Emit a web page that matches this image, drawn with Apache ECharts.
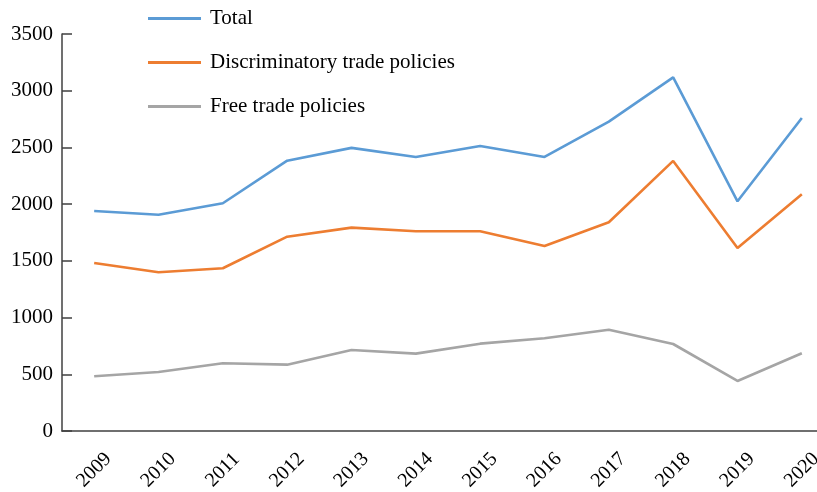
<!DOCTYPE html>
<html>
<head>
<meta charset="utf-8">
<style>
    html, body{
        margin: 0;
        padding: 0;
        background: #fff;
    }
    #chart{
        width: 817px;
        height: 492px;
    }
</style>
<script src="https://cdn.jsdelivr.net/npm/echarts@6/dist/echarts.min.js"></script>
</head>
<body>
<div id="chart"></div>
<script>
    //年份
    var years = ['2009', '2010', '2011', '2012', '2013', '2014', '2015', '2016', '2017', '2018', '2019', '2020'];
    //各系列数据
    var total = [1940, 1907, 2008, 2383, 2496, 2416, 2513, 2416, 2727, 3118, 2025, 2760];
    var discriminatory = [1481, 1399, 1435, 1713, 1793, 1761, 1761, 1631, 1840, 2381, 1614, 2087];
    var freeTrade = [482, 520, 597, 585, 714, 682, 770, 817, 893, 767, 441, 685];
    var seriesNames = ['Total', 'Discriminatory trade policies', 'Free trade policies'];
    var colors = ['#5B9BD5', '#ED7D31', '#A5A5A5'];

    var fontFamily = '"Liberation Serif", "Times New Roman", serif';
    var mychart = echarts.init(document.getElementById('chart'));

    function lineSeries(name, data, color) {
        return {
            name: name,
            type: 'line',
            data: data,
            showSymbol: false,
            symbol: 'none',
            lineStyle: {color: color, width: 2.6},
            itemStyle: {color: color},
            animation: false
        };
    }

    var option = {
        backgroundColor: '#fff',
        textStyle: {fontFamily: fontFamily},
        grid: {
            left: 62,
            top: 34,
            right: -17,
            bottom: 61,
            outerBoundsMode: 'none'
        },
        legend: {
            orient: 'vertical',
            left: 143,
            top: 3,
            itemWidth: 53,
            itemHeight: 3,
            itemGap: 23,
            icon: 'rect',
            data: seriesNames,
            textStyle: {
                fontFamily: fontFamily,
                fontSize: 21,
                color: '#000',
                padding: [0, 0, 0, 4]
            }
        },
        xAxis: {
            type: 'category',
            data: years,
            boundaryGap: true,
            axisLine: {lineStyle: {color: '#404040', width: 1.5}},
            axisTick: {show: false},
            axisLabel: {
                rotate: 45,
                interval: 0,
                align: 'center',
                verticalAlign: 'middle',
                margin: 39,
                fontSize: 20,
                color: '#000',
                fontFamily: fontFamily
            },
            splitLine: {show: false}
        },
        yAxis: {
            type: 'value',
            min: 0,
            max: 3500,
            interval: 500,
            axisLine: {show: true, lineStyle: {color: '#404040', width: 1.5}},
            axisTick: {show: true, inside: true, length: 10, lineStyle: {color: '#404040', width: 1.5}},
            axisLabel: {
                margin: 9,
                fontSize: 21,
                color: '#000',
                fontFamily: fontFamily,
                formatter: function (v) {
                    return String(v);
                }
            },
            splitLine: {show: false}
        },
        series: [
            lineSeries(seriesNames[0], total, colors[0]),
            lineSeries(seriesNames[1], discriminatory, colors[1]),
            lineSeries(seriesNames[2], freeTrade, colors[2])
        ]
    };
    mychart.setOption(option);
</script>
</body>
</html>
